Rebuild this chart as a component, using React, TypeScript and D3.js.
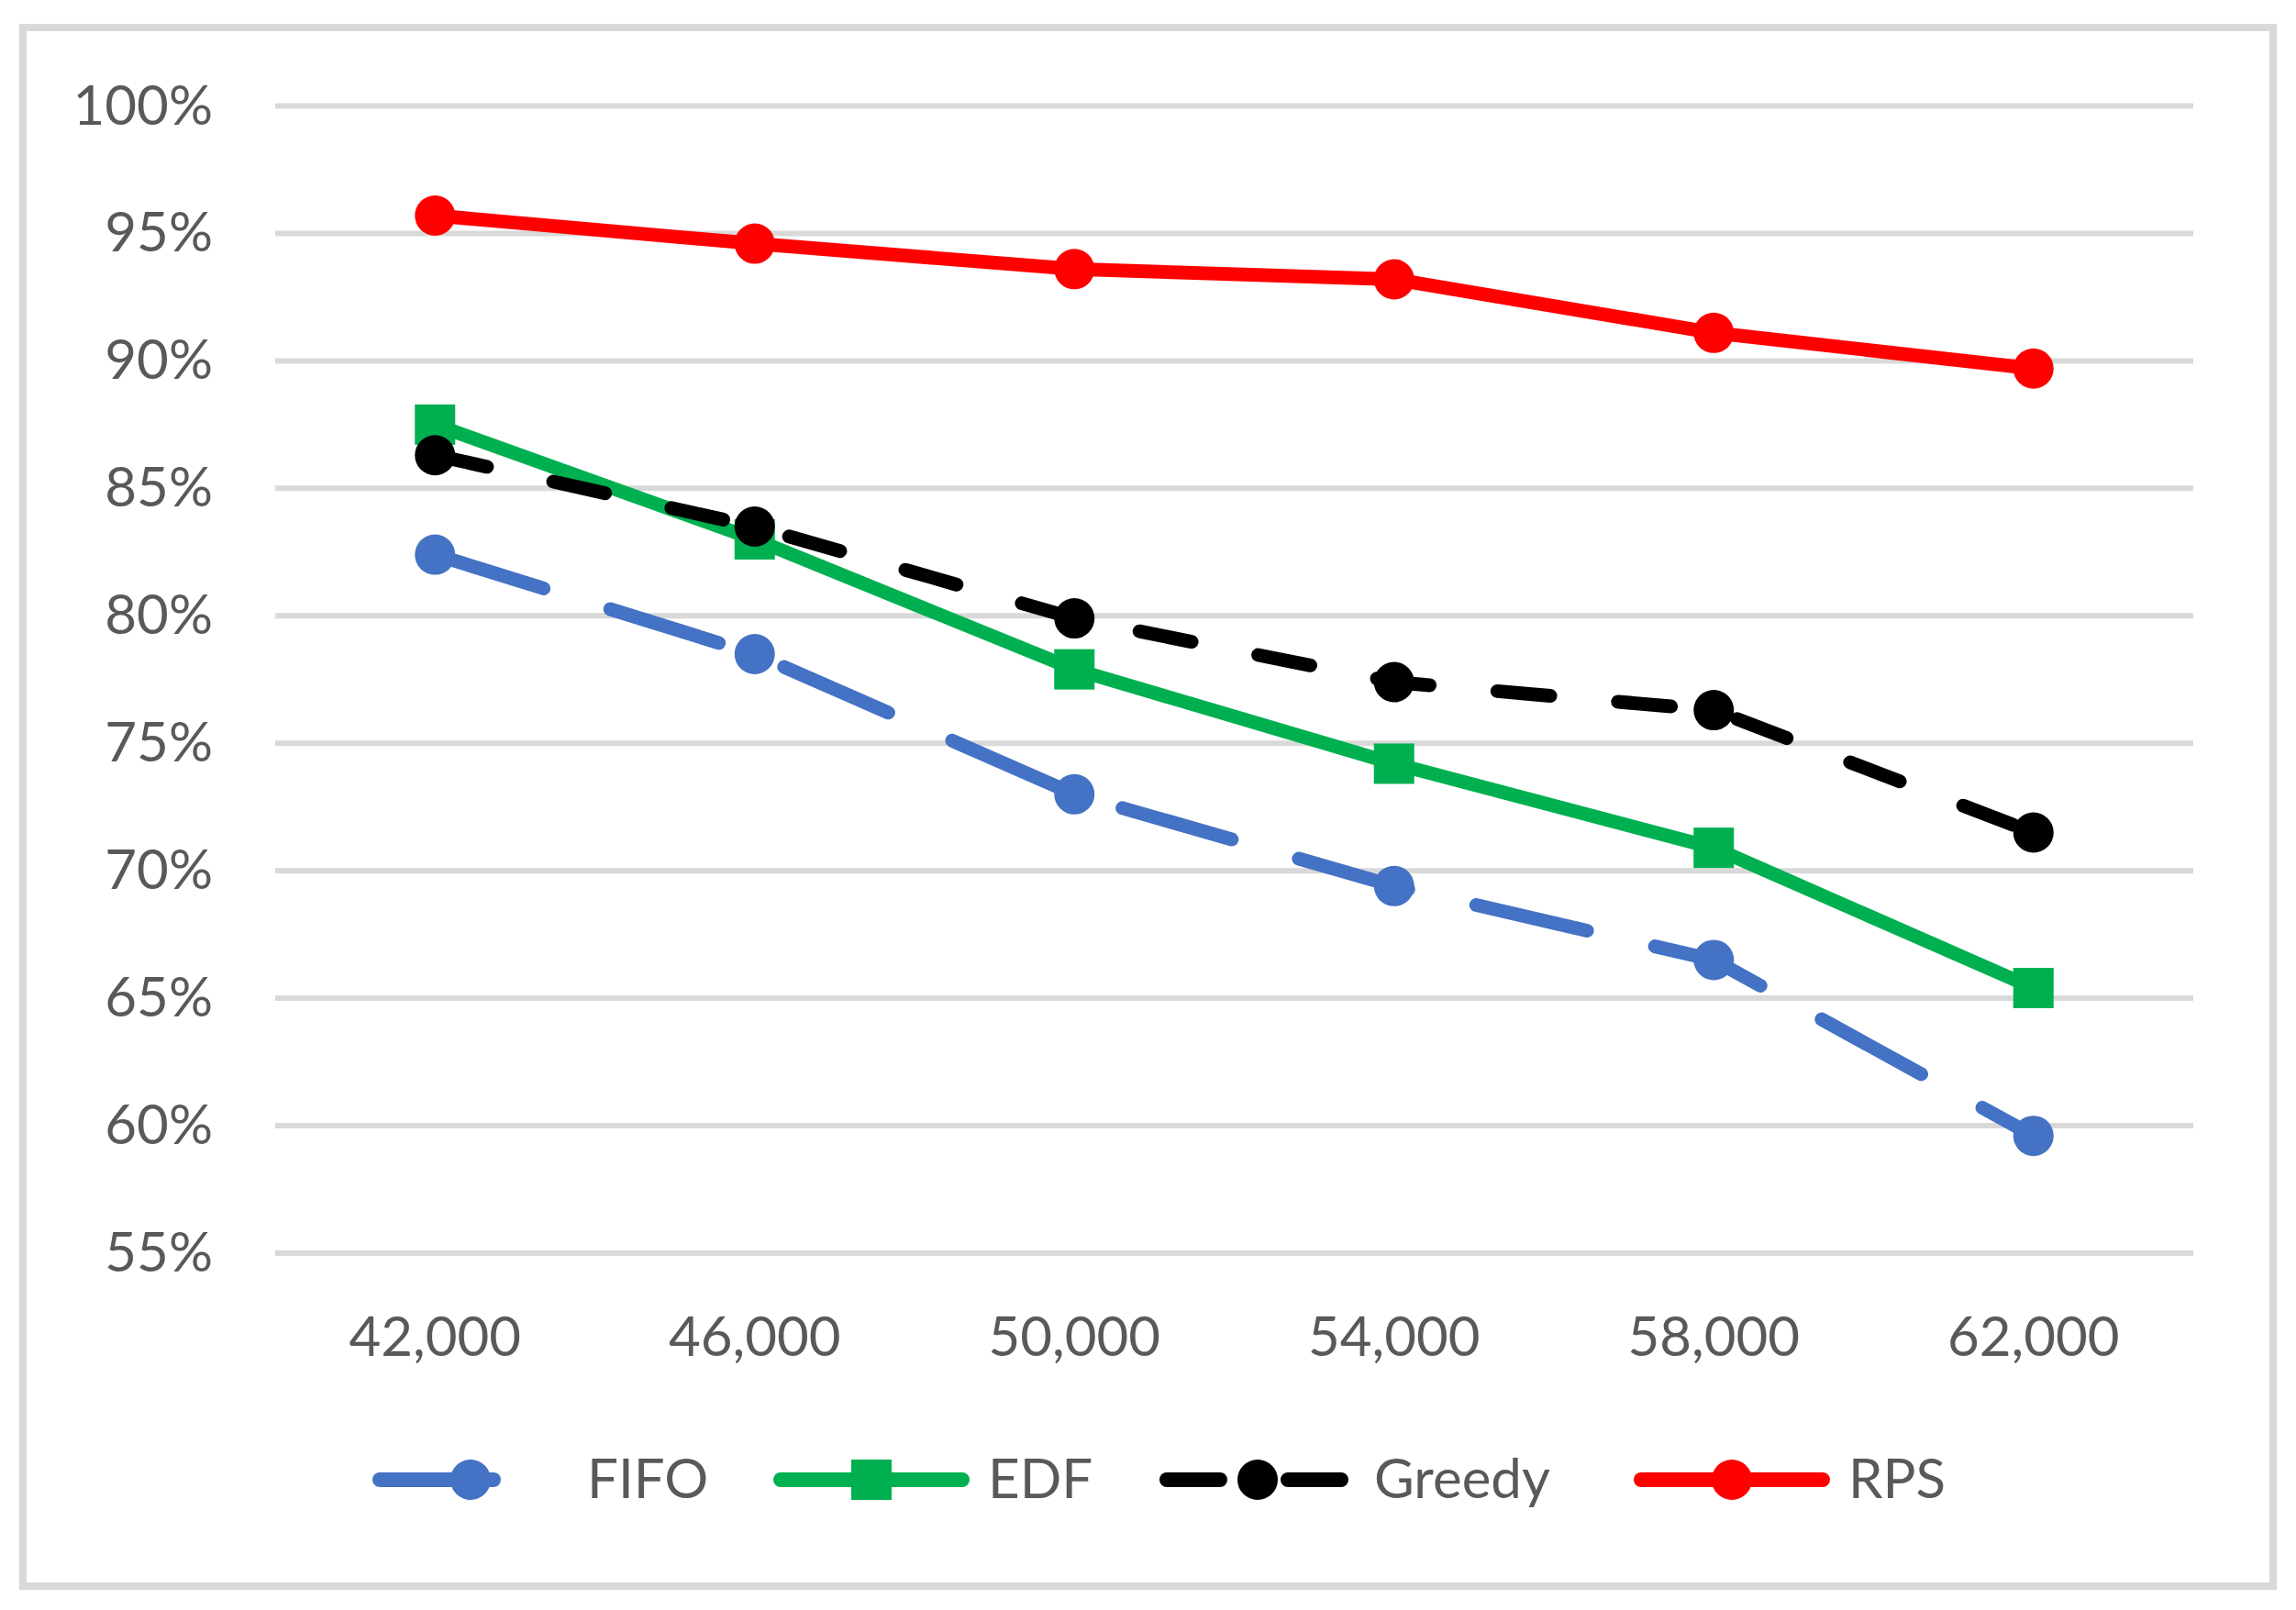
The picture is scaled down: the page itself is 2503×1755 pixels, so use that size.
import * as React from 'react';
import * as d3 from 'd3';

// data
const categories = ['42,000', '46,000', '50,000', '54,000', '58,000', '62,000'];
const fifo = [82.4, 78.5, 73.0, 69.4, 66.5, 59.6];
const edf = [87.5, 83.0, 77.9, 74.2, 70.9, 65.4];
const greedy = [86.3, 83.5, 79.9, 77.4, 76.3, 71.5];
const rps = [95.7, 94.6, 93.6, 93.2, 91.1, 89.7];
const yTicks = [55, 60, 65, 70, 75, 80, 85, 90, 95, 100];
const seriesNames = ['FIFO', 'EDF', 'Greedy', 'RPS'];

const W = 2503;
const H = 1755;
const font = 'Lato, "Open Sans", sans-serif';
const textColor = '#595959';
const gridColor = '#d9d9d9';
const lineW = 15;

const styles: any = {
    FIFO: { color: '#4472C4', dash: '124 76', marker: 'circle' },
    EDF: { color: '#00B050', dash: null, marker: 'square' },
    Greedy: { color: '#000000', dash: '58 74', marker: 'circle' },
    RPS: { color: '#FF0000', dash: null, marker: 'circle' },
};

function Marker(props: any) {
    const { x, y, kind, color, size } = props;
    if (kind === 'square') {
        return <rect x={x - size / 2} y={y - size / 2} width={size} height={size} fill={color} />;
    }
    return <circle cx={x} cy={y} r={size / 2} fill={color} />;
}

export default function App() {
    const series = [fifo, edf, greedy, rps];

    const xScale = d3.scaleBand().domain(categories).range([300, 2391]);
    const xc = (c: string) => (xScale(c) as number) + xScale.bandwidth() / 2;
    const yScale = d3.scaleLinear().domain([55, 100]).range([1366, 115.5]);

    const line = d3.line<number>()
        .x((d, i) => xc(categories[i]))
        .y(d => yScale(d));

    // legend layout
    const legendY = 1613;
    const legendCenters = [513, 950, 1371, 1888];
    const legendHalf = 99;
    const legendTextGap = 127;

    return (
        <div style={{ position: 'absolute', left: 0, top: 0 }}>
            <svg width={W} height={H} style={{ display: 'block', background: '#fff' }}>
                <rect x={0} y={0} width={W} height={H} fill="#fff" />
                <rect x={25} y={30} width={2453} height={1699} fill="#fff" stroke={gridColor} strokeWidth={8} />

                <g className="grid">
                    {yTicks.map(t => (
                        <line key={t} x1={300} x2={2391} y1={yScale(t)} y2={yScale(t)}
                            stroke={gridColor} strokeWidth={6} />
                    ))}
                </g>

                <g className="y-axis" fontFamily={font} fontSize={60} fill={textColor} textAnchor="end">
                    {yTicks.map(t => (
                        <text key={t} x={232} y={yScale(t) + 20}>{t + '%'}</text>
                    ))}
                </g>

                <g className="x-axis" fontFamily={font} fontSize={60} fill={textColor} textAnchor="middle">
                    {categories.map(c => (
                        <text key={c} x={xc(c)} y={1478}>{c}</text>
                    ))}
                </g>

                {series.map((vals, si) => {
                    const st = styles[seriesNames[si]];
                    return (
                        <g key={seriesNames[si]}>
                            <path d={line(vals) as string} fill="none" stroke={st.color}
                                strokeWidth={lineW} strokeLinecap="round" strokeLinejoin="round"
                                strokeDasharray={st.dash || undefined} />
                            {vals.map((v, i) => (
                                <Marker key={i} x={xc(categories[i])} y={yScale(v)}
                                    kind={st.marker} color={st.color} size={44} />
                            ))}
                        </g>
                    );
                })}

                <g className="legend" fontFamily={font} fontSize={60} fill={textColor}>
                    {seriesNames.map((name, i) => {
                        const st = styles[name];
                        const cx = legendCenters[i];
                        return (
                            <g key={name}>
                                <line x1={cx - legendHalf} x2={cx + legendHalf} y1={legendY} y2={legendY}
                                    stroke={st.color} strokeWidth={16} strokeLinecap="round"
                                    strokeDasharray={st.dash || undefined} />
                                <Marker x={cx} y={legendY} kind={st.marker} color={st.color} size={44} />
                                <text x={cx + legendTextGap} y={legendY + 20}>{name}</text>
                            </g>
                        );
                    })}
                </g>
            </svg>
        </div>
    );
}
